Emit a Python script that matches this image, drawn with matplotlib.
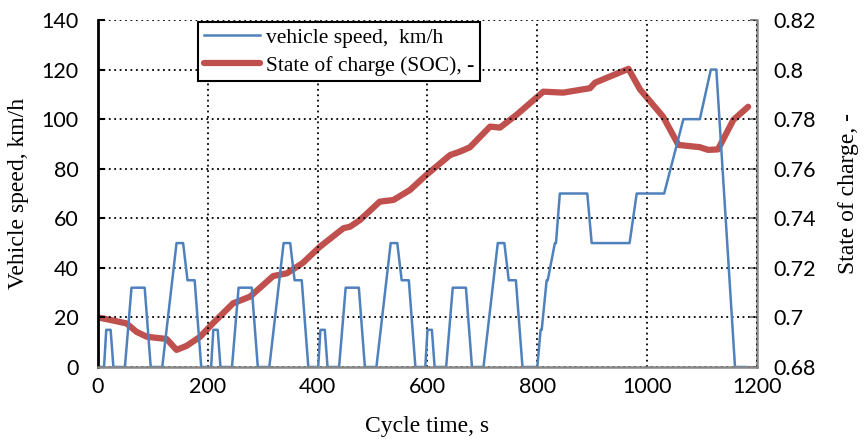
import numpy as np
import matplotlib
matplotlib.use('Agg')
import matplotlib.pyplot as plt

# NEDC speed trace (breakpoints, s / km/h)

t_speed = [0, 11, 15, 23, 28, 49, 61, 85, 96, 117, 143, 155, 163, 176, 188,
           195, 206, 210, 218, 223, 244, 256, 280, 291, 312, 338, 350, 358, 371, 383,
           390, 401, 405, 413, 418, 439, 451, 475, 486, 507, 533, 545, 553, 566, 578,
           585, 596, 600, 608, 613, 634, 646, 670, 681, 702, 728, 740, 748, 761, 773,
           780, 800, 806, 808, 817, 819, 832, 834, 841, 891, 899, 968, 981, 1031,
           1066, 1096, 1116, 1126, 1160, 1180]
speed = [0, 0, 15, 15, 0, 0, 32, 32, 0, 0, 50, 50, 35, 35, 0,
         0, 0, 15, 15, 0, 0, 32, 32, 0, 0, 50, 50, 35, 35, 0,
         0, 0, 15, 15, 0, 0, 32, 32, 0, 0, 50, 50, 35, 35, 0,
         0, 0, 15, 15, 0, 0, 32, 32, 0, 0, 50, 50, 35, 35, 0,
         0, 0, 15, 15, 35, 35, 50, 50, 70, 70, 50, 50, 70, 70,
         100, 100, 120, 120, 0, 0]

# State of charge

t_soc = [0, 22, 52, 70, 89, 125, 143, 161, 186, 209, 246, 277, 319, 344, 373,
         404, 447, 459, 477, 513, 538, 568, 598, 641, 659, 677, 714, 732, 762,
         811, 847, 896, 905, 966, 987, 1029, 1057, 1096, 1111, 1129, 1157, 1184]
soc = [0.700, 0.699, 0.6976, 0.6942, 0.6922, 0.6913, 0.6869, 0.6885, 0.6922,
       0.6976, 0.7057, 0.7084, 0.7167, 0.7178, 0.7220, 0.7285, 0.7360, 0.7366,
       0.7393, 0.7467, 0.7474, 0.7514, 0.7575, 0.7655, 0.7669, 0.7686, 0.7770,
       0.7766, 0.7817, 0.7911, 0.7907, 0.7925, 0.7947, 0.8003, 0.7920, 0.7810,
       0.7696, 0.7687, 0.7676, 0.7678, 0.7797, 0.7850]

soc_ticks = [0.68, 0.70, 0.72, 0.74, 0.76, 0.78, 0.80, 0.82]
soc_labels = ['0.68', '0.7', '0.72', '0.74', '0.76', '0.78', '0.8', '0.82']

tick_font = 'Lato'
label_font = 'Liberation Serif'

fig = plt.figure(figsize=(8.65, 4.41), dpi=100)
ax = fig.add_axes([0.1133, 0.1678, 0.7618, 0.7868])
ax2 = ax.twinx()

l1, = ax.plot(t_speed, speed, color='#4F81BD', lw=1.8, label='vehicle speed,  km/h')
l2, = ax2.plot(t_soc, soc, color='#C0504D', lw=4.5, solid_capstyle='round',
               solid_joinstyle='round', label='State of charge (SOC), -')

ax.set_xlim(0, 1200)
ax.set_ylim(0, 140)
ax.set_xticks(np.arange(0, 1201, 200))
ax.set_yticks(np.arange(0, 141, 20))
ax2.set_ylim(0.68, 0.82)
ax2.set_yticks(soc_ticks)
ax2.set_yticklabels(soc_labels)

ax.grid(True, color='black', linestyle=(0, (1, 2)), linewidth=1.3)
ax.set_axisbelow(True)

for a in (ax, ax2):
    a.spines['top'].set_visible(False)
    for lab in a.get_xticklabels() + a.get_yticklabels():
        lab.set_fontfamily(tick_font)
        lab.set_fontsize(15.5)
ax.spines['left'].set_color('black')
ax.spines['left'].set_linewidth(2)
ax2.spines['left'].set_visible(False)
ax.spines['bottom'].set_color('#888888')
ax.spines['bottom'].set_linewidth(1.8)
ax2.spines['bottom'].set_visible(False)
ax.spines['right'].set_visible(False)
ax2.spines['right'].set_color('#888888')
ax2.spines['right'].set_linewidth(1.8)

ax.tick_params(axis='y', direction='in', length=5, width=1.5, color='black', pad=14)
ax.tick_params(axis='x', direction='in', length=0, pad=7)
ax2.tick_params(axis='y', direction='in', length=5, width=1.5, color='#888888', pad=12)

ax.set_xlabel('Cycle time, s', fontfamily=label_font, fontsize=17, labelpad=14)
ax.set_ylabel('Vehicle speed, km/h', fontfamily=label_font, fontsize=17, labelpad=9)
ax2.set_ylabel('State of charge, -', fontfamily=label_font, fontsize=17, labelpad=16)

leg = ax.legend(handles=[l1, l2], loc='upper left', bbox_to_anchor=(0.152, 0.993),
                prop={'family': label_font, 'size': 15.5}, frameon=True, fancybox=False,
                framealpha=1, edgecolor='black', handlelength=2.6, borderpad=0.25,
                labelspacing=0.35, handletextpad=0.3, borderaxespad=0)
leg.get_frame().set_linewidth(1.5)
leg.set_zorder(5)
ax.set_zorder(ax2.get_zorder() + 1)
ax.patch.set_visible(False)

fig.savefig('out.png', dpi=100)
